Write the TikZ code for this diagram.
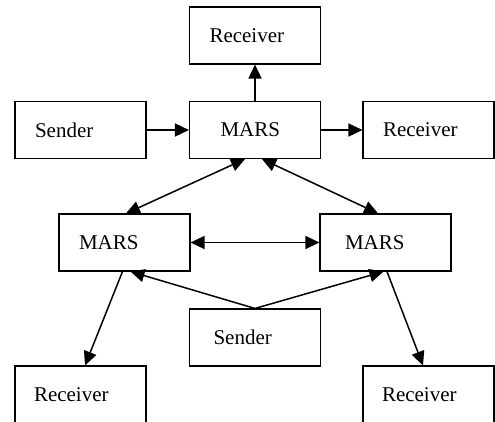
\documentclass[tikz,border=0pt]{standalone}
\usepackage{fontspec}
\setmainfont{Liberation Serif}
\usetikzlibrary{arrows.meta}
\begin{document}
\begin{tikzpicture}[x=1pt,y=-1pt,
  box/.style={draw, line width=1.1pt, minimum height=57pt, inner xsep=#1,
    text width=131pt-2*#1, align=left, font=\fontsize{21}{25}\selectfont},
  box/.default=20pt,
  conn/.style={line width=1.5pt, -{Triangle[length=14pt,width=13pt]}},
  bconn/.style={line width=1.5pt, {Triangle[length=14pt,width=13pt]}-{Triangle[length=14pt,width=13pt]}}]
\useasboundingbox (0,0) rectangle (495,422);
\clip (0,0) rectangle (495,422);
\node[box] (rt) at (255,35.5) {Receiver};
\node[box] (sl) at (80.5,130) {Sender};
\node[box=31pt] (m0) at (255,130) {MARS};
\node[box] (rr) at (428.5,130) {Receiver};
\node[box] (ml) at (124.5,242.5) {MARS};
\node[box=25pt] (mr) at (385.5,242.5) {MARS};
\node[box=24pt] (sb) at (255,337.5) {Sender};
\node[box=19pt] (rbl) at (80.5,394.5) {Receiver};
\node[box=19pt] (rbr) at (428.5,394.5) {Receiver};
\draw[conn] (m0.north) -- (rt.south);
\draw[conn] (sl.east) -- (m0.west);
\draw[conn] (m0.east) -- (rr.west);
\draw[bconn] ([xshift=-10pt]m0.south) -- ([xshift=1.5pt]ml.north);
\draw[bconn] ([xshift=7pt]m0.south) -- ([xshift=-7.5pt]mr.north);
\draw[bconn] (ml.east) -- (mr.west);
\draw[conn] (sb.north) -- ([xshift=6pt]ml.south);
\draw[conn] (sb.north) -- ([xshift=-2pt]mr.south);
\draw[conn] ([xshift=-2pt]ml.south) -- ([xshift=4.5pt]rbl.north);
\draw[conn] ([xshift=1.5pt]mr.south) -- ([xshift=-5.5pt]rbr.north);
\end{tikzpicture}
\end{document}
